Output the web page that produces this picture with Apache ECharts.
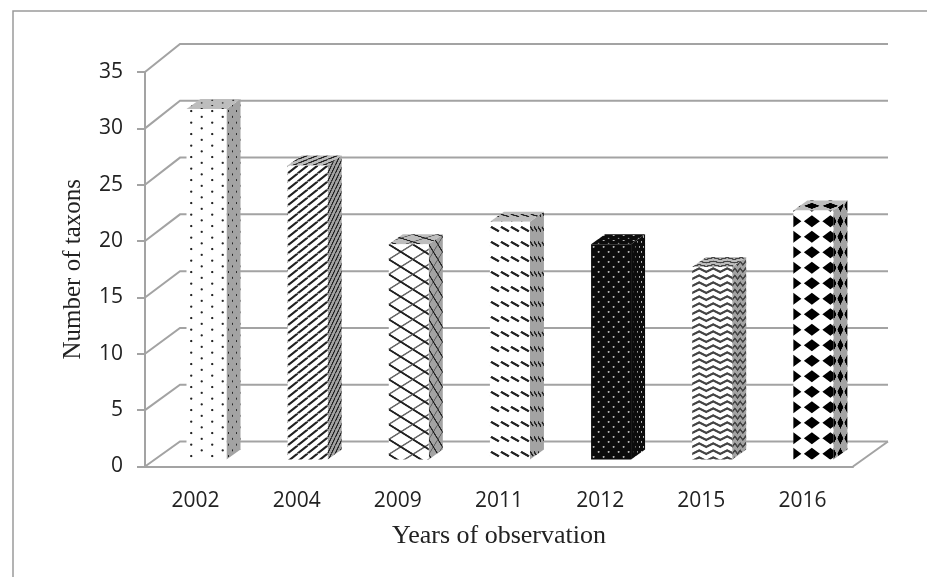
<!DOCTYPE html>
<html><head><meta charset="utf-8">
<style>html,body{margin:0;padding:0;background:#fff}#c{width:927px;height:577px;filter:blur(0.6px)}</style>
<script src="https://cdn.jsdelivr.net/npm/echarts@6/dist/echarts.min.js"></script>
</head><body><div id="c"></div>
<script>
const categories = ['2002','2004','2009','2011','2012','2015','2016'];
const taxons = [31,26,19,21,19,17,22];
const patterns = ['dots','diag','lattice','dash','blackDots','zigzag','diamonds'];
const yTicks = [0,5,10,15,20,25,30,35];
const xTitle = 'Years of observation';
const yTitle = 'Number of taxons';

const GRAY = '#A3A3A3', TEXT = '#222';
const tiles = {
  dots: {w:21,h:11.5,fg:'#222',bg:'#fff',draw(c,w,h,fg){c.fillStyle=fg;[[4.7,2],[15.2,7.75]].forEach(p=>{c.beginPath();c.arc(p[0],p[1],1.15,0,7);c.fill();});}},
  diag: {w:10,h:8,fg:'#222',bg:'#fff',draw(c,w,h,fg){c.strokeStyle=fg;c.lineWidth=2.1;for(let k=-1;k<=1;k++){c.beginPath();c.moveTo(k*w,h);c.lineTo(k*w+w,0);c.stroke();}}},
  lattice:{w:24,h:15,fg:'#222',bg:'#fff',draw(c,w,h,fg){for(let k=-1;k<=1;k++){c.strokeStyle='#666';c.lineWidth=1.5;c.beginPath();c.moveTo(k*w,h);c.lineTo(k*w+w,0);c.stroke();c.strokeStyle=fg;c.lineWidth=1.9;c.beginPath();c.moveTo(k*w,0);c.lineTo(k*w+w,h);c.stroke();}}},
  dash:{w:10,h:15,fg:'#222',bg:'#fff',draw(c,w,h,fg){c.strokeStyle=fg;c.lineWidth=2.3;c.beginPath();c.moveTo(1,5);c.lineTo(9,9.5);c.stroke();}},
  blackDots:{w:10,h:10,fg:'#bbb',bg:'#0c0c0c',sideBg:'#0c0c0c',topBg:'#0c0c0c',draw(c,w,h,fg){c.fillStyle=fg;[[2.5,2.5],[7.5,7.5]].forEach(p=>{c.beginPath();c.arc(p[0],p[1],1,0,7);c.fill();});}},
  zigzag:{w:14,h:7,fg:'#444',bg:'#fff',draw(c,w,h,fg){c.strokeStyle=fg;c.lineWidth=2.2;c.beginPath();c.moveTo(-1,5.5);c.lineTo(7,1.5);c.lineTo(15,5.5);c.stroke();}},
  diamonds:{w:18.5,h:15.5,fg:'#000',bg:'#fff',draw(c,w,h,fg){c.fillStyle=fg;[0,w].forEach(x=>{c.beginPath();c.moveTo(x-8,10.7);c.lineTo(x,4.7);c.lineTo(x+8,10.7);c.lineTo(x,16.7);c.closePath();c.fill();c.beginPath();c.moveTo(x-8,-4.8);c.lineTo(x,-10.8);c.lineTo(x+8,-4.8);c.lineTo(x,1.2);c.closePath();c.fill();});}}
};
function tileCanvas(t,bg){
  const cv=document.createElement('canvas');cv.width=Math.round(t.w*2);cv.height=Math.round(t.h*2);
  const c=cv.getContext('2d');c.fillStyle=bg;c.fillRect(0,0,cv.width,cv.height);c.scale(2,2);t.draw(c,t.w,t.h,t.fg);return cv;
}
const made={};
function pat(name,face,x,y){
  const t=tiles[name];
  const bg=face==='front'?t.bg:face==='side'?(t.sideBg||GRAY):(t.topBg||'#BDBDBD');
  const key=name+face; made[key]=made[key]||tileCanvas(t,bg);
  return {image:made[key],repeat:'repeat',x:x,y:y,
    scaleX:face==='side'?0.5*0.38:0.5,scaleY:face==='top'?0.5*0.5:0.5};
}

function renderWall(p,api){
  const v=api.value(1), cs=p.coordSys, pt=api.coord([0,v]);
  const dx=35, dy=25+v*0.085, left=cs.x, right=cs.x+cs.width, y=pt[1];
  const line={stroke:GRAY,lineWidth:2,fill:null};
  const children=[{type:'polyline',shape:{points:[[left,y],[left+dx,y-dy],[right+dx,y-dy]]},style:line,silent:true}];
  if(v===0)children.push({type:'line',shape:{x1:right,y1:y,x2:right+dx,y2:y-dy},style:{stroke:GRAY,lineWidth:2},silent:true});
  return {type:'group',children};
}
function renderBar(p,api){
  const i=p.dataIndex, top=api.coord([i,api.value(1)]), base=api.coord([i,0]);
  const band=api.size([1,0])[0], name=patterns[i];
  const L=top[0]-band/2+41.5, W=40, D=14, H=10, lift=7;
  const yT=top[1]-lift-1, yB=base[1]-lift, R=L+W;
  return {type:'group',children:[
    {type:'polygon',shape:{points:[[R,yT],[R+D,yT-H],[R+D,yB-H],[R,yB]]},style:{fill:pat(name,'side',R,yT)},silent:true},
    {type:'polygon',shape:{points:[[L,yT],[L+D,yT-H],[R+D,yT-H],[R,yT]]},style:{fill:pat(name,'top',L,yT-H)},silent:true},
    {type:'rect',shape:{x:L,y:yT,width:W,height:yB-yT},style:{fill:pat(name,'front',L,yT)},silent:true}
  ]};
}
const chart=echarts.init(document.getElementById('c'),null,{renderer:'canvas',width:927,height:577});
const axisText={color:TEXT,fontFamily:'"Open Sans"',fontSize:21};
chart.setOption({
  animation:false,backgroundColor:'#fff',
  grid:{left:145,top:72,width:708,height:394.5},
  graphic:[{type:'polyline',shape:{points:[[13,577],[13,11],[927,11]]},style:{stroke:'#9a9a9a',lineWidth:1.5,fill:null},silent:true}],
  xAxis:{type:'category',data:categories,boundaryGap:true,
    axisLine:{lineStyle:{color:GRAY,width:2}},axisTick:{alignWithLabel:false,length:8,lineStyle:{color:GRAY,width:2}},
    axisLabel:Object.assign({margin:24,interval:0},axisText),
    name:xTitle,nameLocation:'middle',nameGap:57,nameTextStyle:{color:TEXT,fontFamily:'"Liberation Serif"',fontSize:26}},
  yAxis:{type:'value',min:0,max:35,interval:5,splitLine:{show:false},
    axisLine:{show:true,lineStyle:{color:GRAY,width:2}},axisTick:{show:true,length:8,lineStyle:{color:GRAY,width:2}},
    axisLabel:Object.assign({margin:22},axisText),
    name:yTitle,nameLocation:'middle',nameGap:59,nameTextStyle:{color:TEXT,fontFamily:'"Liberation Serif"',fontSize:25}},
  series:[
    {type:'custom',silent:true,clip:false,z:1,renderItem:renderWall,encode:{x:0,y:1},data:yTicks.map(v=>[0,v])},
    {type:'custom',silent:true,clip:false,z:2,renderItem:renderBar,encode:{x:0,y:1},data:taxons.map((v,i)=>[i,v])}
  ]
});
</script></body></html>
